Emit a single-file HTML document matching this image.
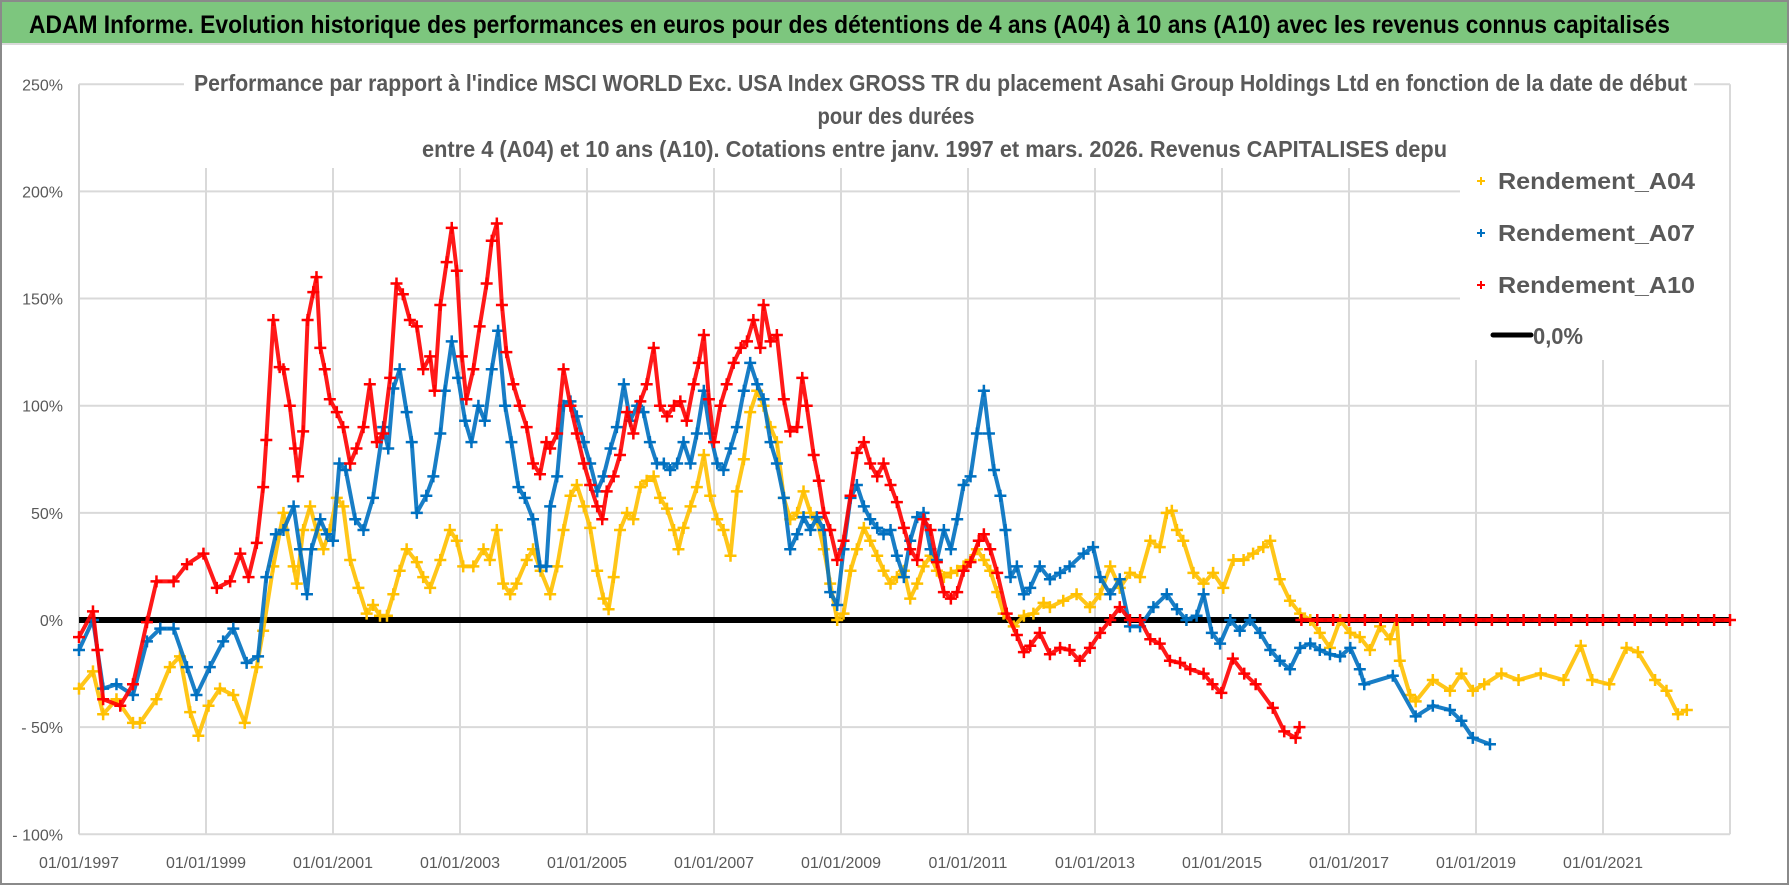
<!DOCTYPE html>
<html><head><meta charset="utf-8"><style>
html,body{margin:0;padding:0;background:#fff;}
svg{display:block;font-family:"Liberation Sans",sans-serif;}
</style></head><body>
<svg id="chart" width="1790" height="886" viewBox="0 0 1790 886">
<rect x="0" y="0" width="1790" height="886" fill="#fff"/>
<rect x="1" y="1" width="1787" height="883" fill="none" stroke="#8a8a8a" stroke-width="2"/>
<rect x="2" y="2" width="1785" height="41" fill="#7dc67e"/>
<line x1="2" y1="44" x2="1787" y2="44" stroke="#d9d9d9" stroke-width="2"/>
<text x="29" y="33" font-size="25" font-weight="bold" fill="#000" textLength="1641" lengthAdjust="spacingAndGlyphs">ADAM Informe. Evolution historique des performances en euros pour des détentions de 4 ans (A04) à 10 ans (A10) avec les revenus connus capitalisés</text>
<g id="grid"></g>
<g id="yaxis"></g>
<g id="xaxis"></g>
<g id="series"></g>
<rect x="184" y="60" width="1510" height="108" fill="#fff"/>
<g fill="#595959" font-weight="bold" font-size="23">
<text x="194" y="91" textLength="1493" lengthAdjust="spacingAndGlyphs">Performance par rapport à l'indice MSCI WORLD Exc. USA Index GROSS TR  du placement Asahi Group Holdings Ltd en fonction de la date de début</text>
<text x="896" y="124" text-anchor="middle" textLength="157" lengthAdjust="spacingAndGlyphs">pour des durées</text>
<text x="422" y="157" textLength="1025" lengthAdjust="spacingAndGlyphs">entre 4 (A04) et 10 ans (A10). Cotations entre janv. 1997 et mars. 2026. Revenus CAPITALISES depu</text>
</g>
<rect x="1460" y="160" width="269" height="200" fill="#fff"/>
<g font-size="23" font-weight="bold" fill="#595959">
<g><path d="M1477 181h8M1481 177v8" stroke="#FFC000" stroke-width="2"/><text x="1498" y="189" textLength="197" lengthAdjust="spacingAndGlyphs">Rendement_A04</text></g>
<g><path d="M1477 233h8M1481 229v8" stroke="#0070C0" stroke-width="2"/><text x="1498" y="241" textLength="197" lengthAdjust="spacingAndGlyphs">Rendement_A07</text></g>
<g><path d="M1477 285h8M1481 281v8" stroke="#FF0000" stroke-width="2"/><text x="1498" y="293" textLength="197" lengthAdjust="spacingAndGlyphs">Rendement_A10</text></g>
<g><line x1="1493" y1="335" x2="1531" y2="335" stroke="#000" stroke-width="5" stroke-linecap="round"/><text x="1533" y="344" textLength="50" lengthAdjust="spacingAndGlyphs">0,0%</text></g>
</g>
</svg>
<script>
const yTicks = [250, 200, 150, 100, 50, 0, -50, -100];
const yTickLabels = ["250%", "200%", "150%", "100%", "50%", "0%", "- 50%", "- 100%"];
const xTickYears = [1997, 1999, 2001, 2003, 2005, 2007, 2009, 2011, 2013, 2015, 2017, 2019, 2021];
const xTickLabels = ["01/01/1997","01/01/1999","01/01/2001","01/01/2003","01/01/2005","01/01/2007","01/01/2009","01/01/2011","01/01/2013","01/01/2015","01/01/2017","01/01/2019","01/01/2021"];
const gridYears = [1999, 2001, 2003, 2005, 2007, 2009, 2011, 2013, 2015, 2017, 2019, 2021, 2023];

const a04Years = [1997.0,1997.22,1997.38,1997.59,1997.85,1997.96,1998.22,1998.43,1998.59,1998.75,1998.88,1999.04,1999.22,1999.43,1999.61,1999.8,1999.9,2000.06,2000.22,2000.38,2000.43,2000.53,2000.64,2000.74,2000.85,2000.95,2001.06,2001.16,2001.27,2001.4,2001.53,2001.63,2001.74,2001.85,2001.95,2002.05,2002.16,2002.32,2002.42,2002.53,2002.69,2002.84,2002.95,2003.05,2003.21,2003.37,2003.47,2003.58,2003.68,2003.79,2003.89,2004.05,2004.15,2004.27,2004.42,2004.53,2004.63,2004.74,2004.84,2004.95,2005.05,2005.16,2005.26,2005.34,2005.42,2005.52,2005.63,2005.73,2005.84,2005.94,2006.05,2006.15,2006.26,2006.37,2006.44,2006.52,2006.63,2006.73,2006.84,2006.94,2007.05,2007.15,2007.26,2007.36,2007.47,2007.57,2007.68,2007.78,2007.89,2007.99,2008.1,2008.2,2008.31,2008.41,2008.52,2008.62,2008.73,2008.83,2008.94,2009.04,2009.15,2009.25,2009.36,2009.46,2009.57,2009.67,2009.78,2009.88,2009.99,2010.09,2010.2,2010.3,2010.41,2010.51,2010.62,2010.73,2010.83,2010.93,2011.04,2011.14,2011.25,2011.35,2011.46,2011.56,2011.72,2011.88,2012.03,2012.19,2012.29,2012.5,2012.71,2012.92,2013.08,2013.24,2013.39,2013.55,2013.71,2013.87,2014.02,2014.13,2014.21,2014.29,2014.39,2014.55,2014.71,2014.86,2015.02,2015.18,2015.34,2015.49,2015.65,2015.76,2015.91,2016.07,2016.23,2016.39,2016.54,2016.7,2016.86,2017.02,2017.17,2017.33,2017.49,2017.65,2017.75,2017.8,2017.96,2018.05,2018.32,2018.59,2018.77,2018.95,2019.13,2019.4,2019.67,2020.02,2020.38,2020.65,2020.83,2021.1,2021.37,2021.55,2021.82,2022.0,2022.18,2022.32];
const a04Values = [-32,-24,-44,-37,-48,-48,-37,-22,-17,-43,-54,-40,-32,-35,-48,-22,-5,25,50,25,17,42,53,42,33,42,57,53,28,15,3,7,2,2,12,23,33,27,20,15,28,42,37,25,25,33,28,42,17,12,17,28,33,23,12,25,42,58,63,53,43,23,10,5,20,42,50,47,62,65,67,57,52,42,33,43,53,62,77,58,47,42,30,60,75,97,107,100,90,83,57,47,50,60,50,47,33,17,0,3,23,33,43,37,30,23,17,20,23,10,17,25,30,23,20,22,23,25,28,33,28,23,13,3,-3,2,3,8,6,9,12,6,12,25,15,22,20,37,34,50,51,42,37,22,17,22,15,28,28,31,34,37,19,9,3,0,-6,-13,0,-6,-8,-14,-3,-9,0,-19,-35,-38,-28,-33,-25,-33,-30,-25,-28,-25,-28,-12,-28,-30,-13,-15,-28,-33,-44,-42];

const a07Years = [1997.0,1997.22,1997.38,1997.59,1997.85,1998.07,1998.28,1998.49,1998.7,1998.85,1999.06,1999.27,1999.43,1999.64,1999.82,1999.95,2000.1,2000.22,2000.38,2000.48,2000.59,2000.66,2000.8,2000.9,2001.0,2001.1,2001.2,2001.35,2001.48,2001.63,2001.79,2001.87,2001.95,2002.05,2002.16,2002.24,2002.32,2002.47,2002.58,2002.69,2002.76,2002.87,2002.97,2003.08,2003.18,2003.29,2003.39,2003.5,2003.6,2003.71,2003.81,2003.92,2004.02,2004.15,2004.26,2004.36,2004.42,2004.53,2004.63,2004.74,2004.84,2004.95,2005.05,2005.16,2005.26,2005.37,2005.47,2005.58,2005.68,2005.79,2005.89,2005.99,2006.1,2006.21,2006.31,2006.42,2006.52,2006.63,2006.73,2006.84,2006.94,2007.05,2007.15,2007.26,2007.36,2007.47,2007.57,2007.68,2007.78,2007.89,2007.99,2008.1,2008.2,2008.31,2008.41,2008.52,2008.62,2008.73,2008.83,2008.94,2009.04,2009.15,2009.25,2009.36,2009.46,2009.57,2009.67,2009.78,2009.88,2009.99,2010.09,2010.2,2010.3,2010.41,2010.51,2010.62,2010.73,2010.83,2010.93,2011.04,2011.14,2011.25,2011.33,2011.41,2011.51,2011.59,2011.67,2011.77,2011.88,2011.98,2012.13,2012.29,2012.45,2012.6,2012.82,2012.97,2013.08,2013.24,2013.39,2013.55,2013.71,2013.92,2014.13,2014.29,2014.44,2014.6,2014.71,2014.84,2014.97,2015.13,2015.28,2015.44,2015.6,2015.76,2015.91,2016.07,2016.23,2016.39,2016.54,2016.7,2016.86,2017.02,2017.17,2017.24,2017.69,2018.05,2018.32,2018.59,2018.77,2018.95,2019.22];
const a07Values = [-14,0,-32,-30,-35,-10,-4,-4,-22,-35,-22,-10,-4,-20,-17,20,40,42,53,33,12,33,47,40,37,73,70,47,42,57,90,80,108,117,97,83,50,58,67,87,107,130,113,93,83,100,93,117,135,100,83,62,57,47,25,25,53,67,100,102,95,83,73,60,67,80,90,110,93,100,97,83,73,73,70,73,83,73,87,107,87,73,70,80,90,107,120,110,103,83,73,57,33,40,48,42,48,42,13,7,33,57,63,53,47,43,40,42,30,20,37,48,50,33,28,42,33,47,63,67,87,107,87,70,58,42,20,25,12,15,25,19,22,25,31,34,20,12,19,-3,-3,6,12,5,0,2,12,-6,-11,0,-5,0,-6,-14,-19,-23,-13,-11,-14,-16,-17,-13,-23,-30,-26,-45,-40,-42,-47,-55,-58];

const a10Years = [1997.0,1997.22,1997.29,1997.38,1997.65,1997.85,1998.07,1998.22,1998.49,1998.7,1998.96,1999.17,1999.38,1999.54,1999.67,1999.8,1999.9,1999.95,2000.06,2000.16,2000.22,2000.32,2000.4,2000.45,2000.53,2000.6,2000.69,2000.74,2000.8,2000.87,2000.95,2001.06,2001.16,2001.27,2001.37,2001.48,2001.58,2001.69,2001.79,2001.9,2002.0,2002.1,2002.21,2002.32,2002.42,2002.53,2002.6,2002.69,2002.79,2002.87,2002.95,2003.03,2003.1,2003.21,2003.31,2003.42,2003.5,2003.58,2003.66,2003.73,2003.84,2003.94,2004.05,2004.15,2004.26,2004.36,2004.42,2004.53,2004.63,2004.74,2004.84,2004.95,2005.05,2005.16,2005.24,2005.31,2005.42,2005.52,2005.63,2005.73,2005.84,2005.94,2006.05,2006.15,2006.26,2006.37,2006.47,2006.57,2006.68,2006.76,2006.84,2006.92,2007.0,2007.1,2007.2,2007.31,2007.42,2007.52,2007.62,2007.73,2007.78,2007.89,2007.99,2008.1,2008.2,2008.31,2008.39,2008.46,2008.57,2008.65,2008.73,2008.83,2008.94,2009.04,2009.15,2009.25,2009.36,2009.46,2009.57,2009.67,2009.78,2009.88,2009.99,2010.09,2010.2,2010.3,2010.41,2010.51,2010.62,2010.73,2010.83,2010.93,2011.04,2011.17,2011.25,2011.35,2011.46,2011.61,2011.77,2011.88,2011.98,2012.13,2012.29,2012.45,2012.6,2012.76,2012.92,2013.08,2013.24,2013.39,2013.55,2013.71,2013.87,2014.02,2014.18,2014.34,2014.5,2014.71,2014.85,2014.99,2015.17,2015.35,2015.53,2015.8,2015.98,2016.16,2016.22];
const a10Values = [-8,4,-14,-37,-40,-30,-1,18,18,26,31,15,18,31,20,36,62,84,140,118,117,100,80,67,88,140,153,160,127,117,103,97,90,73,80,90,110,83,87,113,157,152,140,137,117,123,107,147,167,183,163,123,103,117,137,157,177,185,147,125,110,100,90,73,68,83,80,87,117,100,87,73,63,53,47,60,67,77,97,87,102,110,127,100,95,100,102,93,110,120,133,103,83,100,110,120,127,130,140,127,147,130,133,103,88,90,113,100,77,65,50,42,28,37,58,78,83,73,67,73,63,55,43,33,28,47,42,27,13,10,13,23,27,37,40,33,22,3,-7,-15,-12,-6,-16,-13,-14,-19,-13,-6,0,6,0,0,-9,-11,-19,-20,-23,-25,-30,-34,-18,-25,-30,-41,-52,-55,-50];
const a10ZeroYears = [2016.25,2016.5,2016.75,2017.0,2017.25,2017.5,2017.75,2018.0,2018.25,2018.5,2018.75,2019.0,2019.25,2019.5,2019.75,2020.0,2020.25,2020.5,2020.75,2021.0,2021.25,2021.5,2021.75,2022.0,2022.25,2022.5,2022.75,2023.0];
const a10ZeroValues = [0,0,0,0,0,0,0,0,0,0,0,0,0,0,0,0,0,0,0,0,0,0,0,0,0,0,0,0];
const zeroLineYears = [1997, 2023];
const zeroLineValues = [0, 0];

const NS = "http://www.w3.org/2000/svg";
const X0 = 79, PXY = 63.5, Y0 = 620, PXP = 2.143;
function xScale(yr){ return X0 + (yr - 1997) * PXY; }
function yScale(v){ return Y0 - v * PXP; }
function mk(tag, attrs, parent){
  const el = document.createElementNS(NS, tag);
  for (const k in attrs) el.setAttribute(k, attrs[k]);
  parent.appendChild(el);
  return el;
}
const grid = document.getElementById('grid');
const yaxis = document.getElementById('yaxis');
const xaxis = document.getElementById('xaxis');
const series = document.getElementById('series');

yTicks.forEach((t, i) => {
  const gl = mk('line', {x1: X0, x2: xScale(2023), y1: yScale(t), y2: yScale(t), stroke: '#d9d9d9', 'stroke-width': 2}, grid);
  
  
  const lb = mk('text', {x: 63, y: yScale(t) + 6, 'text-anchor': 'end', 'font-size': 16, fill: '#595959'}, yaxis);
  lb.textContent = yTickLabels[i];
  
  
});
gridYears.forEach(g => {
  const gl = mk('line', {x1: xScale(g), x2: xScale(g), y1: yScale(250), y2: yScale(-100), stroke: '#d9d9d9', 'stroke-width': 2}, grid);
  
  
});
const ax = mk('line', {x1: X0, x2: X0, y1: yScale(250), y2: yScale(-100), stroke: '#d0d0d0', 'stroke-width': 2}, grid);


xTickYears.forEach((yr, i) => {
  const lb = mk('text', {x: xScale(yr), y: 868, 'text-anchor': 'middle', 'font-size': 16, fill: '#595959'}, xaxis);
  lb.textContent = xTickLabels[i];
  
  
});

const zl = mk('polyline', {points: zeroLineYears.map((y, i) => xScale(y) + ',' + yScale(zeroLineValues[i])).join(' '), fill: 'none', stroke: '#000', 'stroke-width': 6}, series);



function drawSeries(years, values, color, name){
  const g = mk('g', {}, series);
  
  
  const pl = mk('polyline', {points: years.map((y, i) => xScale(y) + ',' + yScale(values[i])).join(' '), fill: 'none', stroke: color, 'stroke-width': 4, 'stroke-linejoin': 'round', opacity: 0.9}, g);
  
  
  years.forEach((y, i) => {
    const cx = xScale(y), cy = yScale(values[i]);
    const p = mk('path', {d: `M${cx-6} ${cy}h12M${cx} ${cy-6}v12`, stroke: color, 'stroke-width': 2.5}, g);
    
    
  });
}
drawSeries(a04Years, a04Values, '#FFC000', 'series-a04');
drawSeries(a07Years, a07Values, '#0070C0', 'series-a07');
drawSeries(a10Years, a10Values, '#FF0000', 'series-a10');
drawSeries(a10ZeroYears, a10ZeroValues, '#FF0000', 'series-a10-zero');
</script>
</body></html>
